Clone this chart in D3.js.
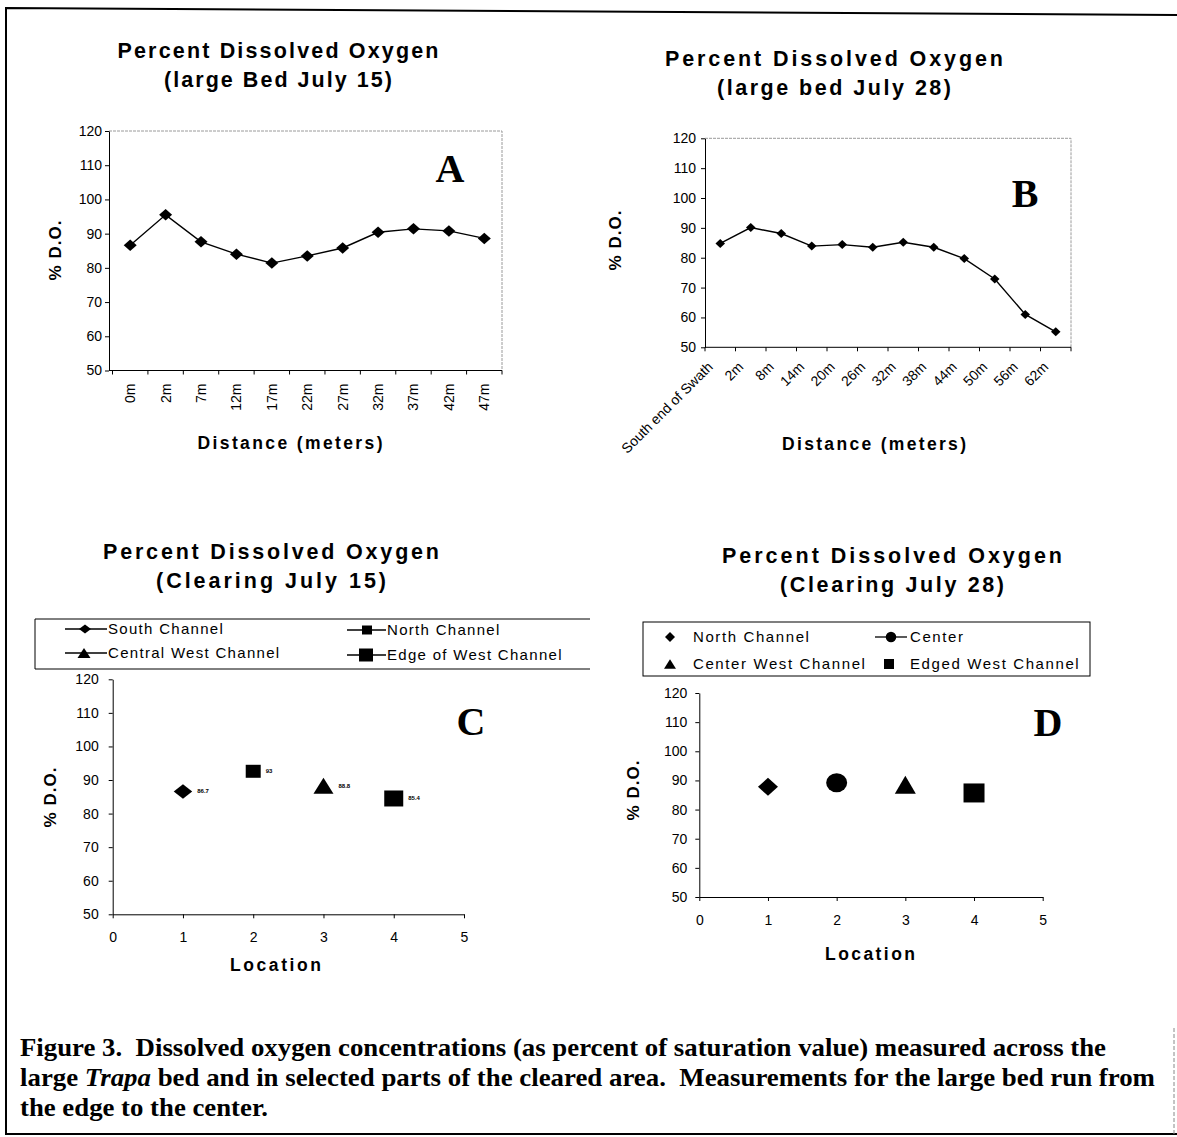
<!DOCTYPE html>
<html>
<head>
<meta charset="utf-8">
<script src="https://cdn.jsdelivr.net/npm/d3@7"></script>
<style>
body { margin:0; background:#fff; }
svg { display:block; font-family:"Liberation Sans", Arial, sans-serif; }
.axis text { font-size:14px; fill:#000; font-family:"Liberation Sans", Arial, sans-serif; }
.axis path, .axis line { stroke:#000; }
</style>
</head>
<body>
<div id="content"></div>
<script>
// data
var yTicks   = [50, 60, 70, 80, 90, 100, 110, 120];
var locTicks = [0, 1, 2, 3, 4, 5];

var distA = ['0m','2m','7m','12m','17m','22m','27m','32m','37m','42m','47m'];
var doA   = [86.6, 95.5, 87.6, 84.0, 81.4, 83.5, 85.8, 90.4, 91.4, 90.8, 88.6];

var distB = ['South end of Swath','2m','8m','14m','20m','26m','32m','38m','44m','50m','56m','62m'];
var doB   = [84.8, 90.1, 88.1, 83.9, 84.4, 83.5, 85.2, 83.5, 79.7, 72.9, 61.0, 55.2];

var seriesC = ['South Channel','North Channel','Central West Channel','Edge of West Channel'];
var locC    = [1, 2, 3, 4];
var doC     = [86.6, 92.6, 88.3, 84.5];
var labelC  = ['86.7', '93', '88.8', '85.4'];

var seriesD = ['North Channel','Center','Center West Channel','Edged West Channel'];
var locD    = [1, 2, 3, 4];
var doD     = [87.8, 89.2, 88.5, 85.7];

var svg = d3.select('#content').append('svg')
    .attr('width', 1177)
    .attr('height', 1137);

var titleFont = '"Liberation Sans", Arial, sans-serif';

//centered marker shapes, w x h
function markPath(type, w, h){
    var a = w/2, b = h/2;
    switch(type){
        case 'diamond':
            return 'M0,'+(-b)+'L'+a+',0L0,'+b+'L'+(-a)+',0Z';
        case 'square':
            return 'M'+(-a)+','+(-b)+'H'+a+'V'+b+'H'+(-a)+'Z';
        case 'triangle':
            return 'M0,'+(-b)+'L'+a+','+b+'L'+(-a)+','+b+'Z';
        case 'circle':
            return 'M'+(-a)+',0A'+a+','+b+' 0 1,0 '+a+',0A'+a+','+b+' 0 1,0 '+(-a)+',0Z';
    }
}

function spacedText(x, y, str, len, size){
    return svg.append('text')
        .attr('x', x).attr('y', y)
        .attr('text-anchor', 'middle')
        .attr('textLength', len)
        .attr('lengthAdjust', 'spacing')
        .style('font-family', titleFont)
        .style('font-weight', 'bold')
        .style('font-size', size + 'px')
        .text(str);
}

function drawTitle(cx, y1, w1, w2, line2){
    spacedText(cx, y1, 'Percent Dissolved Oxygen', w1, 21.5);
    spacedText(cx, y1 + 29, line2, w2, 21.5);
}

function drawYLabel(x, y){
    svg.append('text')
        .attr('transform', 'translate(' + x + ',' + y + ') rotate(-90)')
        .attr('text-anchor', 'middle')
        .style('font-weight', 'bold')
        .style('font-size', '17px')
        .style('letter-spacing', '1px')
        .text('% D.O.');
}

function drawLetter(x, y, ch){
    svg.append('text')
        .attr('x', x).attr('y', y)
        .attr('text-anchor', 'middle')
        .style('font-family', '"Liberation Serif", "Times New Roman", serif')
        .style('font-weight', 'bold')
        .style('font-size', '40px')
        .text(ch);
}

function drawYAxis(y, x, pad){
    svg.append('g').attr('class', 'axis')
        .attr('transform', 'translate(' + x + ',0)')
        .call(d3.axisLeft(y).tickValues(yTicks).tickSize(4).tickSizeOuter(0).tickPadding(pad));
}

//line chart with category axis (panels A and B)
function drawLinePanel(cats, vals, o){
    var x = d3.scaleBand().domain(cats).range([o.x0, o.x1]);
    var y = d3.scaleLinear().domain([50, 120]).range([o.y0, o.y1]);
    var bw = x.bandwidth();

    // plot area frame
    svg.append('path')
        .attr('d', 'M' + o.axisX + ',' + o.y1 + 'H' + o.x1 + 'V' + o.y0)
        .attr('fill', 'none')
        .attr('stroke', '#9a9a9a')
        .attr('stroke-dasharray', '3,1');

    drawYAxis(y, o.axisX, o.pad);

    svg.append('line')
        .attr('x1', o.axisX).attr('x2', o.x1)
        .attr('y1', o.y0).attr('y2', o.y0)
        .attr('stroke', '#000');

    var edges = cats.map(function(c){ return x(c); }).concat([o.x1]);
    svg.append('g').selectAll('line').data(edges).enter().append('line')
        .attr('x1', function(d){ return d; }).attr('x2', function(d){ return d; })
        .attr('y1', o.y0).attr('y2', o.y0 + 4)
        .attr('stroke', '#000');

    svg.append('g').selectAll('text').data(cats).enter().append('text')
        .attr('transform', function(d){
            return 'translate(' + (x(d) + bw/2 + o.lblDx) + ',' + (o.y0 + o.lblDy) + ') rotate(' + o.rot + ')';
        })
        .attr('text-anchor', 'end')
        .attr('dy', '.35em')
        .style('font-size', o.lblSize + 'px')
        .text(function(d){ return d; });

    var line = d3.line()
        .x(function(d, i){ return x(cats[i]) + bw/2; })
        .y(function(d){ return y(d); });

    svg.append('path')
        .datum(vals)
        .attr('d', line)
        .attr('fill', 'none')
        .attr('stroke', '#000')
        .attr('stroke-width', 1.4);

    svg.append('g').selectAll('path').data(vals).enter().append('path')
        .attr('transform', function(d, i){ return 'translate(' + (x(cats[i]) + bw/2) + ',' + y(d) + ')'; })
        .attr('d', markPath('diamond', o.mw, o.mh))
        .attr('fill', '#000');
}

//scatter with numeric location axis (panels C and D)
function drawScatterPanel(locs, vals, marks, o){
    var x = d3.scaleLinear().domain([0, 5]).range([o.x0, o.x1]);
    var y = d3.scaleLinear().domain([50, 120]).range([o.y0, o.y1]);

    drawYAxis(y, o.x0, o.pad);

    svg.append('g').attr('class', 'axis')
        .attr('transform', 'translate(0,' + o.y0 + ')')
        .call(d3.axisBottom(x).tickValues(locTicks).tickSize(4).tickSizeOuter(0).tickPadding(14).tickFormat(d3.format('d')));

    svg.append('g').selectAll('path').data(vals).enter().append('path')
        .attr('transform', function(d, i){ return 'translate(' + x(locs[i]) + ',' + y(d) + ')'; })
        .attr('d', function(d, i){ return markPath(marks[i].type, marks[i].w, marks[i].h); })
        .attr('fill', '#000');

    if(o.labels){
        svg.append('g').selectAll('text').data(vals).enter().append('text')
            .attr('x', function(d, i){ return x(locs[i]) + marks[i].w/2 + 5; })
            .attr('y', function(d){ return y(d) + 2; })
            .style('font-size', '6px')
            .style('font-weight', 'bold')
            .text(function(d, i){ return o.labels[i]; });
    }
}

function drawLegendItem(x, y, m, withLine, textX, str, spacing){
    if(withLine){
        svg.append('line')
            .attr('x1', withLine[0]).attr('x2', withLine[1])
            .attr('y1', y).attr('y2', y)
            .attr('stroke', '#000').attr('stroke-width', 1.3);
    }
    svg.append('path')
        .attr('transform', 'translate(' + x + ',' + y + ')')
        .attr('d', markPath(m.type, m.w, m.h))
        .attr('fill', '#000');
    svg.append('text')
        .attr('x', textX).attr('y', y + 5)
        .style('font-size', '15px')
        .style('letter-spacing', spacing + 'px')
        .text(str);
}

// ---------- Panel A ----------
drawTitle(278, 58, 321, 228, '(large Bed July 15)');
drawLinePanel(distA, doA, {x0:112.5, x1:502, y0:370.5, y1:131, axisX:109, pad:3,
    rot:-90, lblDx:0, lblDy:13, lblSize:14, mw:13, mh:11.5});
drawYLabel(61, 250);
spacedText(290, 449, 'Distance (meters)', 185, 17.5);
drawLetter(450, 182, 'A');

// ---------- Panel B ----------
drawTitle(834, 66, 338, 234, '(large bed July 28)');
drawLinePanel(distB, doB, {x0:705, x1:1071, y0:347.3, y1:138.3, axisX:705, pad:5,
    rot:-45, lblDx:-10, lblDy:17, lblSize:14, mw:9.5, mh:9});
drawYLabel(621, 240);
spacedText(874, 450, 'Distance (meters)', 184, 17.5);
drawLetter(1025, 207, 'B');

// ---------- Panel C ----------
drawTitle(271, 559, 336, 230, '(Clearing July 15)');
svg.append('path')
    .attr('d', 'M590,619H35V669H590')
    .attr('fill', 'none').attr('stroke', '#000');
var marksC = [
    {type:'diamond', w:18.5, h:14.5},
    {type:'square', w:15, h:13},
    {type:'triangle', w:20, h:16},
    {type:'square', w:19, h:16}
];
drawLegendItem(85, 629, {type:'diamond', w:12, h:9}, [65, 107], 108, seriesC[0], 1.3);
drawLegendItem(367, 630, {type:'square', w:10, h:9}, [347, 386], 387, seriesC[1], 1.3);
drawLegendItem(84, 653, {type:'triangle', w:13, h:10}, [65, 107], 108, seriesC[2], 1.3);
drawLegendItem(366, 655, {type:'square', w:14, h:13}, [347, 386], 387, seriesC[3], 1.3);
drawScatterPanel(locC, doC, marksC, {x0:112.7, x1:464, y0:914.3, y1:679.3, pad:10, labels:labelC});
drawYLabel(56, 797);
spacedText(275.5, 971, 'Location', 91, 17.5);
drawLetter(471, 735, 'C');

// ---------- Panel D ----------
drawTitle(892, 563, 340, 224, '(Clearing July 28)');
svg.append('rect')
    .attr('x', 643).attr('y', 622)
    .attr('width', 447).attr('height', 54)
    .attr('fill', 'none').attr('stroke', '#000');
var marksD = [
    {type:'diamond', w:20, h:18},
    {type:'circle', w:21, h:19},
    {type:'triangle', w:21, h:18},
    {type:'square', w:21, h:19}
];
drawLegendItem(670, 637, {type:'diamond', w:10, h:10}, null, 693, seriesD[0], 1.6);
drawLegendItem(891, 637, {type:'circle', w:10.5, h:10.5}, [875, 907], 910, seriesD[1], 1.6);
drawLegendItem(670, 664, {type:'triangle', w:12, h:9.5}, null, 693, seriesD[2], 1.6);
drawLegendItem(889, 664, {type:'square', w:10, h:10}, null, 910, seriesD[3], 1.6);
drawScatterPanel(locD, doD, marksD, {x0:699.3, x1:1042.7, y0:897, y1:693, pad:8});
drawYLabel(639, 790);
spacedText(870, 960, 'Location', 90, 17.5);
drawLetter(1048, 736, 'D');

// ---------- outer border and caption ----------
svg.append('path')
    .attr('d', 'M1177,15L6,8V1134H1177')
    .attr('fill', 'none').attr('stroke', '#000').attr('stroke-width', 2);
svg.append('line')
    .attr('x1', 1174).attr('x2', 1174).attr('y1', 1028).attr('y2', 1134)
    .attr('stroke', '#888').attr('stroke-dasharray', '4,2');

var capLines = [
    ['Figure 3.  Dissolved oxygen concentrations (as percent of saturation value) measured across the'],
    ['large ', 'Trapa', ' bed and in selected parts of the cleared area.  Measurements for the large bed run from'],
    ['the edge to the center.']
];
var capWidths = [1086, 1135, 248];
capLines.forEach(function(parts, i){
    var t = svg.append('text')
        .attr('x', 20).attr('y', 1056 + i*30)
        .attr('textLength', capWidths[i])
        .attr('lengthAdjust', 'spacingAndGlyphs')
        .attr('xml:space', 'preserve')
        .style('font-family', '"Liberation Serif", "Times New Roman", serif')
        .style('font-weight', 'bold')
        .style('font-size', '26px')
        .style('white-space', 'pre');
    parts.forEach(function(p){
        t.append('tspan')
            .style('font-style', p == 'Trapa' ? 'italic' : 'normal')
            .text(p);
    });
});
</script>
</body>
</html>
